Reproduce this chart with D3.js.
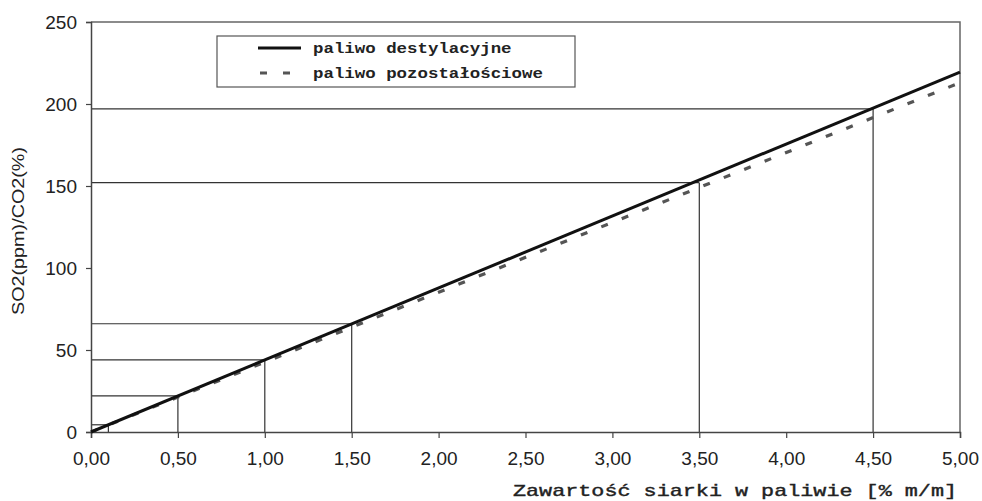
<!DOCTYPE html>
<html>
<head>
<meta charset="utf-8">
<script src="https://cdn.jsdelivr.net/npm/d3@7"></script>
<style>
  body { margin: 0; background: #fff; }
  svg text { fill: #222; }
</style>
</head>
<body>
<div id="chart"></div>
<script>
// series: sulphur content (% m/m) vs SO2(ppm)/CO2(%)
const distillateX = [0, 5]
const distillateY = [0, 219.5]
const residualX = [0, 5]
const residualY = [0, 213]
// reading lines dropped to the axes
const guideX = [0.1, 0.5, 1.0, 1.5, 3.5, 4.5]
const guideY = [4.4, 22, 44, 66, 152, 197]
const xTicks = [0, 0.5, 1, 1.5, 2, 2.5, 3, 3.5, 4, 4.5, 5]
const yTicks = [0, 50, 100, 150, 200, 250]
const legendLabels = ['paliwo destylacyjne', 'paliwo pozostałościowe']

const width = 982
const height = 501
const margin = { top: 22, right: 22, bottom: 69, left: 91 }

const svg = d3.select('#chart')
  .append('svg')
  .attr('width', width)
  .attr('height', height)

const x = d3.scaleLinear().domain([0, 5]).range([margin.left, width - margin.right])
const y = d3.scaleLinear().domain([0, 250]).range([height - margin.bottom, margin.top])

const fmt = d => d3.format('.2f')(d).replace('.', ',')

// frame (top + right)
svg.append('path')
  .attr('d', `M${x(0)},${y(250)}H${x(5)}V${y(0)}`)
  .attr('fill', 'none')
  .attr('stroke', '#666')
  .attr('stroke-width', 1.5)

// guide lines
const guides = svg.append('g').attr('stroke', '#333').attr('stroke-width', 1.2)
guideX.forEach((gx, i) => {
  guides.append('line')
    .attr('x1', x(0)).attr('x2', x(gx))
    .attr('y1', y(guideY[i])).attr('y2', y(guideY[i]))
  guides.append('line')
    .attr('x1', x(gx)).attr('x2', x(gx))
    .attr('y1', y(0)).attr('y2', y(guideY[i]))
})

// axes
const xAxis = svg.append('g')
  .attr('transform', `translate(0,${y(0)})`)
  .call(d3.axisBottom(x).tickValues(xTicks).tickFormat(fmt).tickSize(6).tickPadding(14))
const yAxis = svg.append('g')
  .attr('transform', `translate(${x(0)},0)`)
  .call(d3.axisLeft(y).tickValues(yTicks).tickSize(5).tickPadding(9))

;[xAxis, yAxis].forEach(a => {
  a.select('.domain').attr('stroke', '#444').attr('stroke-width', 1.5)
  a.selectAll('.tick line').attr('stroke', '#444').attr('stroke-width', 1.2)
  a.selectAll('.tick text')
    .attr('fill', '#222')
    .style('font-family', 'Liberation Sans, Arial, sans-serif')
    .style('font-size', '19px')
})

// data lines
const line = d3.line().x(d => x(d[0])).y(d => y(d[1]))
svg.append('path')
  .datum(residualX.map((v, i) => [v, residualY[i]]))
  .attr('d', line)
  .attr('fill', 'none')
  .attr('stroke', '#555')
  .attr('stroke-width', 3.2)
  .attr('stroke-dasharray', '7,15')
svg.append('path')
  .datum(distillateX.map((v, i) => [v, distillateY[i]]))
  .attr('d', line)
  .attr('fill', 'none')
  .attr('stroke', '#111')
  .attr('stroke-width', 3)

// legend
const legend = svg.append('g').attr('transform', 'translate(217,36)')
legend.append('rect')
  .attr('width', 358).attr('height', 51)
  .attr('fill', '#fff').attr('stroke', '#555').attr('stroke-width', 1.2)
legend.append('line')
  .attr('x1', 41).attr('x2', 84).attr('y1', 12).attr('y2', 12)
  .attr('stroke', '#111').attr('stroke-width', 3)
legend.append('line')
  .attr('x1', 43).attr('x2', 84).attr('y1', 37).attr('y2', 37)
  .attr('stroke', '#555').attr('stroke-width', 3).attr('stroke-dasharray', '7,16')
legend.selectAll('text.lab')
  .data(legendLabels)
  .enter()
  .append('text')
  .attr('class', 'lab')
  .attr('x', 96)
  .attr('y', (d, i) => 17 + i * 25)
  .attr('textLength', d => d.length * 10.45)
  .attr('lengthAdjust', 'spacingAndGlyphs')
  .style('font-family', 'Liberation Mono, Courier New, monospace')
  .style('font-weight', 'bold')
  .style('font-size', '15px')
  .text(d => d)

// axis titles
svg.append('text')
  .attr('x', 957)
  .attr('y', 496)
  .attr('text-anchor', 'end')
  .attr('textLength', 444)
  .attr('lengthAdjust', 'spacingAndGlyphs')
  .attr('stroke', '#222')
  .attr('stroke-width', 0.4)
  .style('font-family', 'Liberation Mono, Courier New, monospace')
  .style('font-size', '17px')
  .text('Zawartość siarki w paliwie [% m/m]')

svg.append('text')
  .attr('transform', 'translate(24,231) rotate(-90)')
  .attr('text-anchor', 'middle')
  .attr('textLength', 168)
  .attr('lengthAdjust', 'spacingAndGlyphs')
  .style('font-family', 'Liberation Sans, Arial, sans-serif')
  .style('font-size', '17px')
  .text('SO2(ppm)/CO2(%)')
</script>
</body>
</html>
